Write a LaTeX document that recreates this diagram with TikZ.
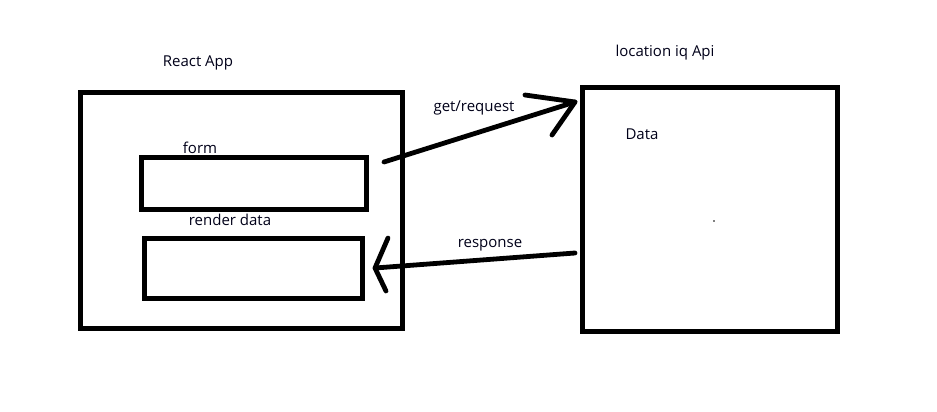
\documentclass[tikz,border=0pt]{standalone}
\usepackage{fontspec}
\setmainfont{Open Sans}
\begin{document}
\begin{tikzpicture}[x=1pt,y=-1pt,
  box/.style={draw=black,line width=5pt,inner sep=0pt,outer sep=0pt,anchor=north west},
  lbl/.style={font=\fontsize{15}{18}\selectfont,text=black!90!blue,inner sep=0pt},
  conn/.style={line width=4.8pt,line cap=round,line join=round}]
\useasboundingbox[fill=white] (0,0) rectangle (937,412);
\node[box,minimum width=322pt,minimum height=236pt] (react) at (80,92) {};
\node[box,minimum width=225pt,minimum height=52pt] (form) at (141,157) {};
\node[box,minimum width=218pt,minimum height=60pt] (render) at (144,238) {};
\node[box,minimum width=255pt,minimum height=244pt] (api) at (582,87) {};
\node[lbl] (treact) at (198,63) {React App};
\node[lbl] (tform) at (200,148) {form};
\node[lbl] (trender) at (230,220) {render data};
\node[lbl] (tapi) at (665,53) {location iq Api};
\node[lbl] (tdata) at (642,134) {Data};
\node[lbl] (tget) at (474,108) {get/request};
\node[lbl] (tresp) at (490,245) {response};
\fill (714,221) circle (0.8pt);
\coordinate (g1) at (384,162);
\coordinate (g2) at (575,102);
\coordinate (ga) at (525,95);
\coordinate (gb) at (552,135);
\coordinate (r1) at (575,253);
\coordinate (r2) at (375,268);
\coordinate (ra) at (388,238);
\coordinate (rb) at (386,291);
\draw[conn] (g1) -- (g2);
\draw[conn] (ga) -- (g2) -- (gb);
\draw[conn] (r1) -- (r2);
\draw[conn] (ra) -- (r2) -- (rb);
\end{tikzpicture}
\end{document}
